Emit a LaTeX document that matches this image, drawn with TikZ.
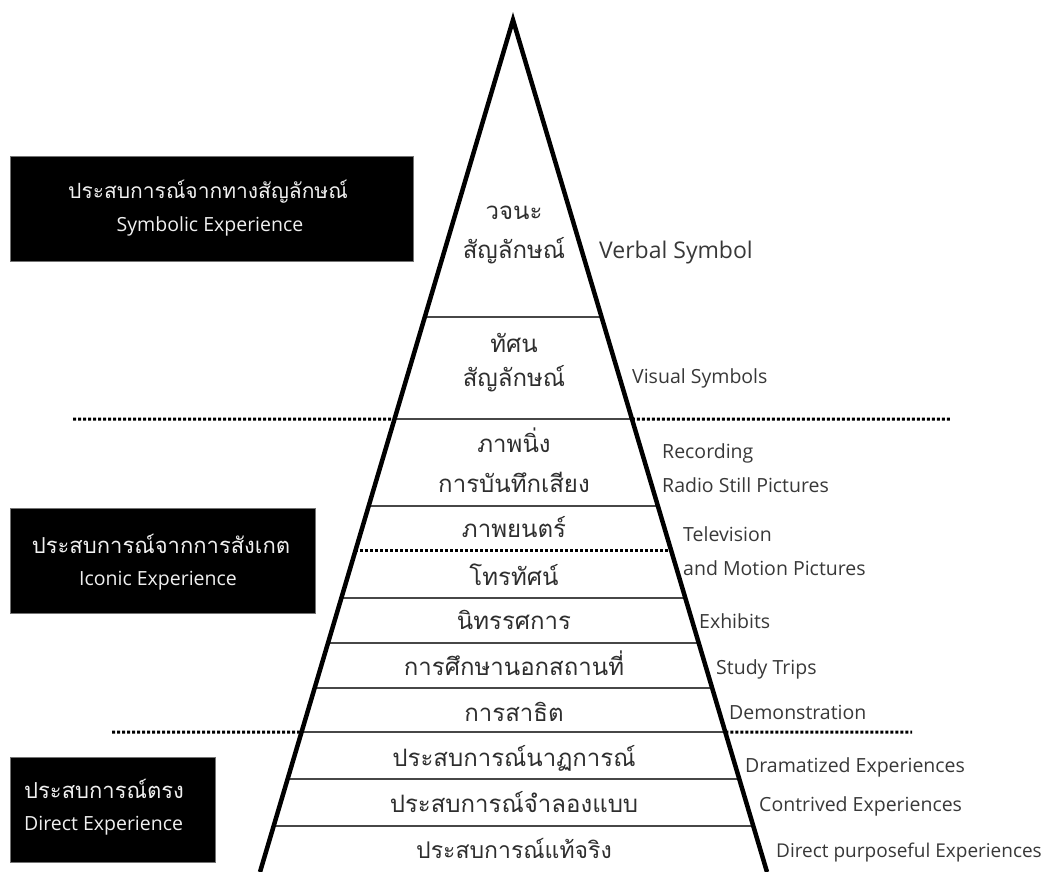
\documentclass[tikz,border=0pt]{standalone}
\usepackage{fontspec}
\setmainfont{Open Sans}
\newfontfamily\thaifont[Script=Thai]{Loma}
\usetikzlibrary{calc}
\begin{document}
\begin{tikzpicture}[x=1pt,y=-1pt,
  side/.style={line width=4.5pt, line join=miter, draw=black},
  rule/.style={line width=1.3pt, draw=black!72},
  dotline/.style={line width=3pt, draw=black, dash pattern=on 3pt off 2pt},
  blackbox/.style={fill=black, draw=black!55, line width=1pt, inner sep=0pt},
  th/.style={font=\thaifont\fontsize{24}{28}\selectfont, text=black!82, inner sep=0pt, anchor=base},
  en/.style={font=\fontsize{19.5}{23}\selectfont, text=black!78, inner sep=0pt, anchor=base west},
  bth/.style={font=\thaifont\fontsize{22}{26}\selectfont, text=white!94!black, inner sep=0pt, anchor=base},
  ben/.style={font=\fontsize{19.5}{23}\selectfont, text=white!94!black, inner sep=0pt, anchor=base},
]
\useasboundingbox (0,0) rectangle (1047,872);
% pyramid geometry
\coordinate (apex) at (513,20);
\coordinate (bl) at (260,872);
\coordinate (br) at (767,872);
\foreach \yy in {317,419,506,551,598,643,688,732,779,826}{
  \coordinate (L\yy) at ($(apex)!{(\yy-20)/852}!(bl)$);
  \coordinate (R\yy) at ($(apex)!{(\yy-20)/852}!(br)$);
}
% solid rules inside the pyramid
\foreach \yy in {317,419,506,598,643,688,732,779,826}{
  \draw[rule] (L\yy) -- (R\yy);
}
% dotted separators
\coordinate (d1a) at (73,419);
\coordinate (d1b) at (951,419);
\coordinate (d3a) at (112,732);
\coordinate (d3b) at (912,732);
\draw[dotline] (d1a) -- (L419);
\draw[dotline] (R419) -- (d1b);
\draw[dotline] (L551) -- (R551);
\draw[dotline] (d3a) -- (L732);
\draw[dotline] (R732) -- (d3b);
% pyramid sides
\draw[side] (bl) -- (apex) -- (br);

% black boxes
\node[blackbox, minimum width=403pt, minimum height=104pt] (box1) at (211.5,209) {};
\node[blackbox, minimum width=305pt, minimum height=105pt] (box2) at (162.5,560.5) {};
\node[blackbox, minimum width=205pt, minimum height=105pt] (box3) at (112.5,809.5) {};
\node[bth, font=\thaifont\fontsize{21}{25}\selectfont] (box1th) at (208,198) {ประสบการณ์จากทางสัญลักษณ์};
\node[ben] (box1en) at (210,231) {Symbolic Experience};
\node[bth] (box2th) at (161,553) {ประสบการณ์จากการสังเกต};
\node[ben] (box2en) at (158,585) {Iconic Experience};
\node[bth, anchor=base west] (box3th) at (24,798) {ประสบการณ์ตรง};
\node[ben, anchor=base west] (box3en) at (24,830) {Direct Experience};

% Thai labels inside the pyramid
\node[th] (t1a) at (514,219) {วจนะ};
\node[th] (t1b) at (514,258) {สัญลักษณ์};
\node[th] (t2a) at (514,352) {ทัศน};
\node[th] (t2b) at (514,386) {สัญลักษณ์};
\node[th] (t3a) at (514,452) {ภาพนิ่ง};
\node[th] (t3b) at (514,492) {การบันทึกเสียง};
\node[th] (t4) at (514,537) {ภาพยนตร์};
\node[th] (t5) at (514,585) {โทรทัศน์};
\node[th] (t6) at (514,629) {นิทรรศการ};
\node[th] (t7) at (514,675) {การศึกษานอกสถานที่};
\node[th] (t8) at (514,721) {การสาธิต};
\node[th] (t9) at (514,766) {ประสบการณ์นาฏการณ์};
\node[th] (t10) at (514,812) {ประสบการณ์จำลองแบบ};
\node[th, font=\thaifont\fontsize{23}{27}\selectfont] (t11) at (514,858) {ประสบการณ์แท้จริง};

% English labels on the right
\node[en, font=\fontsize{23}{27}\selectfont] (e1) at (599,258) {Verbal Symbol};
\node[en] (e2) at (632,383) {Visual Symbols};
\node[en] (e3a) at (662,458) {Recording};
\node[en] (e3b) at (662,492) {Radio Still Pictures};
\node[en] (e4a) at (683,541) {Television};
\node[en] (e4b) at (683,575) {and Motion Pictures};
\node[en] (e5) at (699,628) {Exhibits};
\node[en] (e6) at (716,674) {Study Trips};
\node[en] (e7) at (729,719) {Demonstration};
\node[en] (e8) at (745,772) {Dramatized Experiences};
\node[en] (e9) at (759,811) {Contrived Experiences};
\node[en, font=\fontsize{19}{23}\selectfont] (e10) at (776,857) {Direct purposeful Experiences};
\end{tikzpicture}
\end{document}
